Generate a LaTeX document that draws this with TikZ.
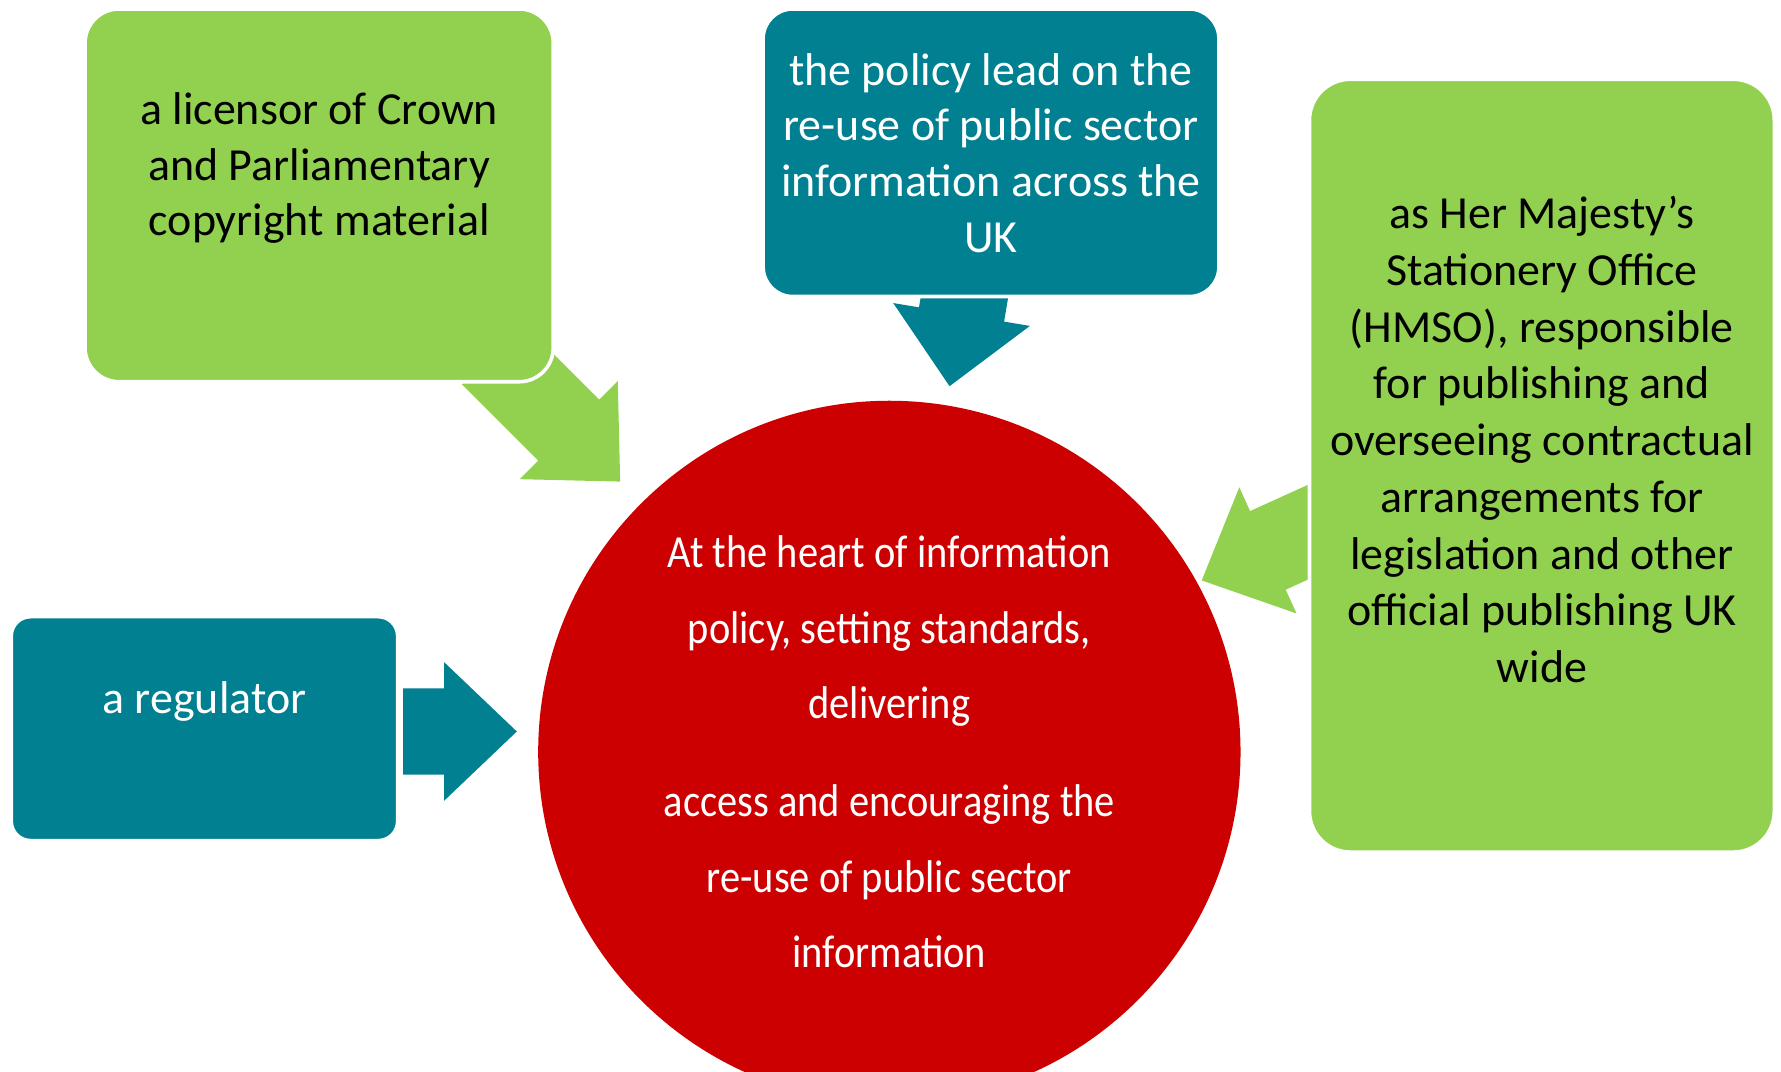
\documentclass[tikz,border=0pt]{standalone}
\usepackage{fontspec}
\setmainfont{Carlito}
\newfontfamily\heartfont[FakeStretch=0.88]{Carlito}
\usepackage{xcolor}
\usepackage{tikz}
\usetikzlibrary{positioning,calc}

\definecolor{leafgreen}{RGB}{146,208,80}
\definecolor{seateal}{RGB}{0,128,144}
\definecolor{heartred}{RGB}{204,0,0}

% block arrow: colour, tip, rotation, length
\newcommand{\blockarrow}[4]{%
  \fill[#1, shift={#2}, rotate=#3] (0,0) -- (-64,61) -- (-64,38) -- (-#4,38)
    -- (-#4,-38) -- (-64,-38) -- (-64,-61) -- cycle;}

\begin{document}
\begin{tikzpicture}[
    x=0.01cm, y=-0.01cm,
    card/.style={rectangle, draw=white, line width=0.9pt, inner sep=0pt},
    greencard/.style={card, fill=leafgreen},
    tealcard/.style={card, fill=seateal},
    darktext/.style={align=center, text=black, font=\fontsize{11.5}{13.94}\selectfont},
    lighttext/.style={align=center, text=white, font=\fontsize{11.5}{13.94}\selectfont}
]
\clip (0,0) rectangle (1568,943);

% Arrows (under the boxes)
\blockarrow{leafgreen}{(546,424)}{-45}{159}
\blockarrow{seateal}{(836,340)}{-99.5}{140}
\blockarrow{leafgreen}{(1058,511)}{-155.6}{140}
\blockarrow{seateal}{(455,644)}{0}{100}

% Boxes
\node[greencard, minimum width=4.12cm, minimum height=3.28cm, rounded corners=0.3cm] (licensor) at (281,172) {};
\node[tealcard, minimum width=4.01cm, minimum height=2.53cm, rounded corners=0.26cm] (policy) at (872.5,134.5) {};
\node[greencard, minimum width=4.09cm, minimum height=6.80cm, rounded corners=0.36cm] (hmso) at (1357.5,410) {};
\node[tealcard, minimum width=3.40cm, minimum height=1.97cm, rounded corners=0.17cm] (regulator) at (180,641.5) {};

% Centre
\node[circle, fill=heartred, minimum size=6.18cm, inner sep=0pt] (heart) at (783,662) {};

% Texts
\node[darktext] (licensortext) at ([yshift=0.24cm]licensor.center)
  {a licensor of Crown\\and Parliamentary\\copyright material};
\node[lighttext] (policytext) at (policy.center)
  {the policy lead on the\\re-use of public sector\\information across the\\UK};
\node[darktext, font=\fontsize{11.5}{14.2}\selectfont] (hmsotext) at ([yshift=0.23cm]hmso.center)
  {as Her Majesty’s\\Stationery Office\\(HMSO), responsible\\for publishing and\\overseeing contractual\\arrangements for\\legislation and other\\official publishing UK\\wide};
\node[lighttext] (regulatortext) at ([yshift=0.235cm]regulator.center) {a regulator};
\node[lighttext, font=\heartfont\fontsize{11.5}{18.9}\selectfont] (hearttext) at (heart.center)
  {At the heart of information\\policy, setting standards,\\delivering\\[5.6pt]access and encouraging the\\re-use of public sector\\information};

\end{tikzpicture}
\end{document}
